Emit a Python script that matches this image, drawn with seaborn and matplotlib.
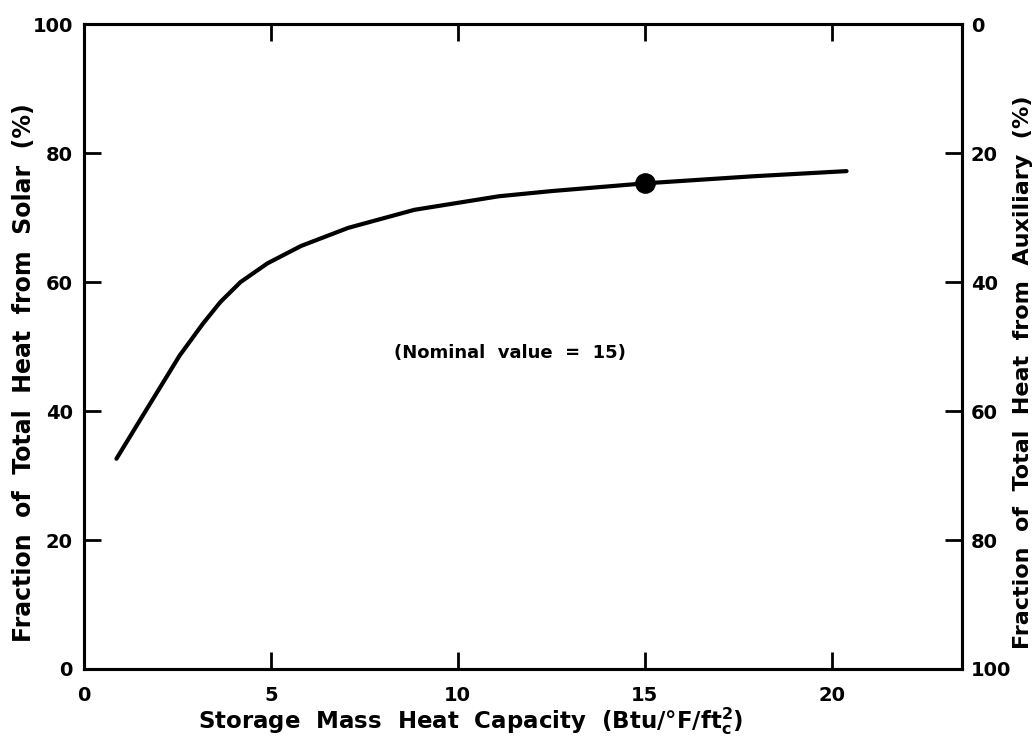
import matplotlib
matplotlib.use("Agg")
import matplotlib.pyplot as plt
import seaborn as sns
import pandas as pd

# Data
capacity = [0.87, 1.65, 2.56, 3.19, 3.65, 4.19, 4.91, 5.81, 7.07, 8.84, 11.1, 12.5, 15.0, 17.9, 20.4]
solar_pct = [32.6, 40.0, 48.6, 53.6, 56.9, 60.0, 62.9, 65.6, 68.4, 71.2, 73.3, 74.1, 75.3, 76.4, 77.2]
nominal_x = [15.0]
nominal_y = [75.3]
x_ticks = [0, 5, 10, 15, 20]
y_ticks = [0, 20, 40, 60, 80, 100]
aux_ticks = [0, 20, 40, 60, 80, 100]

sns.set_theme(style="ticks")
plt.rcParams['font.family'] = ['DejaVu Sans']
plt.rcParams.update({"text.color": "black", "axes.labelcolor": "black",
                     "xtick.color": "black", "ytick.color": "black",
                     "axes.edgecolor": "black"})

df = pd.DataFrame({"x": capacity, "y": solar_pct})
nom = pd.DataFrame({"x": nominal_x, "y": nominal_y})

fig = plt.figure(figsize=(10.36, 7.43), dpi=100)
ax = fig.add_axes([0.081, 0.0996, 0.848, 0.868])

sns.lineplot(data=df, x="x", y="y", ax=ax, color="black", linewidth=3.0,
             solid_joinstyle="round", solid_capstyle="round")
sns.scatterplot(data=nom, x="x", y="y", ax=ax, color="black", s=190,
                edgecolor="black", zorder=5)

ax.set_xlim(0, 23.5)
ax.set_ylim(0, 100)
ax.set_xticks(x_ticks)
ax.set_yticks(y_ticks)
ax.set_xticklabels([str(v) for v in x_ticks])
ax.set_yticklabels([str(v) for v in y_ticks])

for lab in ax.get_xticklabels() + ax.get_yticklabels():
    lab.set_fontsize(14)
    lab.set_fontweight("semibold")

ax.tick_params(axis="both", direction="in", length=12, width=2,
               top=True, right=False, pad=8)
ax.tick_params(axis="x", pad=12)
for s in ax.spines.values():
    s.set_linewidth(2.2)

ax.set_xlabel("Storage  Mass  Heat  Capacity  (Btu/°F/ft$_{\\mathbf{c}}^{\\mathbf{2}}$)",
              fontsize=16.5, fontweight="bold")
ax.xaxis.set_label_coords(0.44, -0.056)
ax.set_ylabel("Fraction  of  Total  Heat  from  Solar  (%)",
              fontsize=17, fontweight="bold")
ax.yaxis.set_label_coords(-0.055, 0.46)

ax2 = ax.twinx()
ax2.set_ylim(100, 0)
ax2.set_yticks(aux_ticks)
ax2.set_yticklabels([str(v) for v in aux_ticks], fontsize=14, fontweight="semibold")
ax2.tick_params(axis="y", direction="in", length=12, width=2, pad=6)
ax2.set_ylabel("Fraction  of  Total  Heat  from  Auxiliary  (%)",
               fontsize=16, fontweight="bold")
ax2.yaxis.set_label_coords(1.057, 0.46)
for s in ax2.spines.values():
    s.set_linewidth(2.2)

ax.text(11.4, 49, "(Nominal  value  =  15)", fontsize=13, fontweight="bold",
        ha="center", va="center")

sns.despine(ax=ax, top=False, right=False)
fig.savefig("out.png", dpi=100)
